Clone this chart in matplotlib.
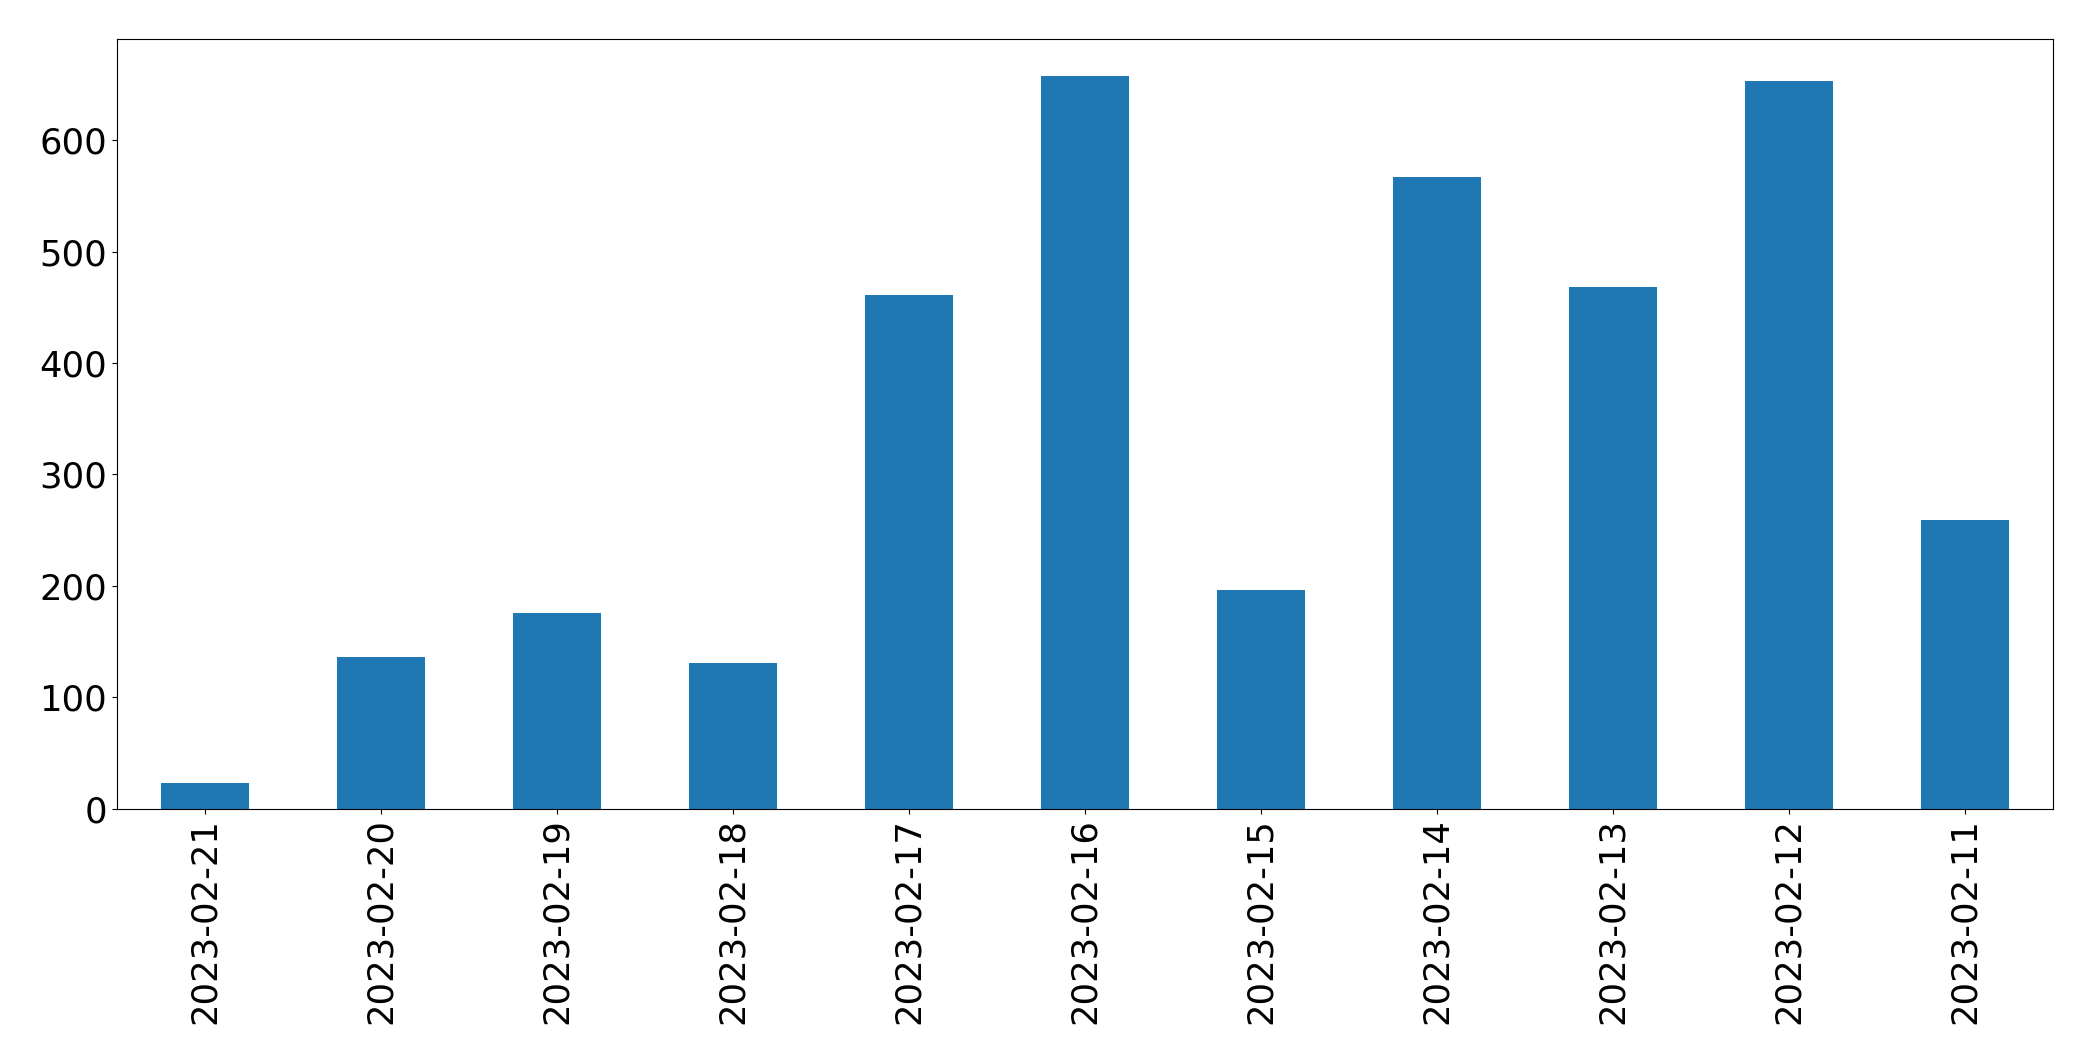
import matplotlib
matplotlib.use("Agg")
import matplotlib.pyplot as plt
import pandas as pd

dates = [
    "2023-02-21", "2023-02-20", "2023-02-19", "2023-02-18", "2023-02-17",
    "2023-02-16", "2023-02-15", "2023-02-14", "2023-02-13", "2023-02-12",
    "2023-02-11",
]
counts = [23, 136, 176, 131, 461, 658, 196, 567, 468, 653, 259]


def main():
    series = pd.Series(counts, index=dates)

    fig = plt.figure(figsize=(20.93, 10.61), dpi=100)
    ax = fig.add_axes([0.0557, 0.2378, 0.9252, 0.7254])
    series.plot.bar(ax=ax, color="#1f77b4", fontsize=25.5)
    ax.set_xlim(-0.5, len(dates) - 0.5)
    for spine in ax.spines.values():
        spine.set_color("black")

    fig.savefig("out.png", dpi=100)
    plt.close(fig)


if __name__ == "__main__":
    main()
